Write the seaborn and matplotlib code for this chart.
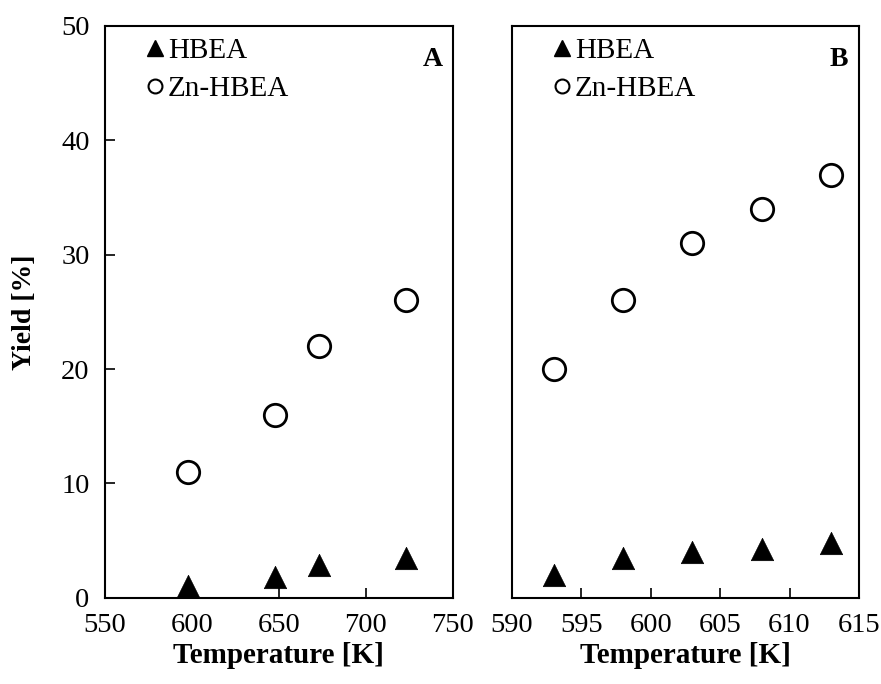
import matplotlib
matplotlib.use("Agg")
import matplotlib.pyplot as plt
import seaborn as sns
import pandas as pd
from matplotlib.lines import Line2D

# Data
temp_a = [598, 648, 673, 723]
hbea_a = [1.0, 1.8, 2.9, 3.5]
zn_a = [11.0, 16.0, 22.0, 26.0]

temp_b = [593, 598, 603, 608, 613]
hbea_b = [2.0, 3.5, 4.0, 4.3, 4.8]
zn_b = [20.0, 26.0, 31.0, 34.0, 37.0]

xticks_a = [550, 600, 650, 700, 750]
xticks_b = [590, 595, 600, 605, 610, 615]
yticks = [0, 10, 20, 30, 40, 50]

sns.set_style("ticks")
plt.rcParams['font.family'] = ['Liberation Serif', 'DejaVu Serif']
plt.rcParams['text.color'] = 'black'
plt.rcParams['axes.labelcolor'] = 'black'
plt.rcParams['xtick.color'] = 'black'
plt.rcParams['ytick.color'] = 'black'

fig = plt.figure(figsize=(8.81, 6.84), dpi=100)
axA = fig.add_axes([0.119, 0.126, 0.395, 0.836])
axB = fig.add_axes([0.581, 0.126, 0.394, 0.836])

def draw(ax, t, h, z, xticks, letter, show_y):
    df_h = pd.DataFrame({"T": t, "Y": h})
    df_z = pd.DataFrame({"T": t, "Y": z})
    sns.scatterplot(data=df_h, x="T", y="Y", ax=ax, marker="^", s=260,
                    color="black", edgecolor="black", linewidth=0.5, zorder=3)
    sns.scatterplot(data=df_z, x="T", y="Y", ax=ax, marker="o", s=260,
                    facecolor="white", edgecolor="black", linewidth=2.0, zorder=3)
    ax.set_xlim(xticks[0], xticks[-1])
    ax.set_ylim(0, 50)
    ax.set_xticks(xticks)
    ax.set_yticks(yticks)
    ax.tick_params(axis='both', direction='in', length=7, width=1.2,
                   labelsize=20.5, colors='black')
    ax.tick_params(axis='x', pad=11)
    ax.tick_params(axis='y', pad=11)
    if not show_y:
        ax.tick_params(axis='y', left=False, labelleft=False)
        ax.set_ylabel("")
    else:
        ax.set_ylabel("Yield [%]", fontsize=20, fontweight='bold', labelpad=17)
    ax.set_xlabel("Temperature [K]", fontsize=21, fontweight='bold', labelpad=3)
    for sp in ax.spines.values():
        sp.set_visible(True)
        sp.set_linewidth(1.5)
        sp.set_color('black')
    handles = [
        Line2D([], [], marker='^', linestyle='none', color='black', markersize=12),
        Line2D([], [], marker='o', linestyle='none', markerfacecolor='white',
               markeredgecolor='black', markeredgewidth=1.5, markersize=10),
    ]
    ax.legend(handles, ["HBEA", "Zn-HBEA"], loc='upper left', frameon=False,
              fontsize=21, handletextpad=0.15, handlelength=0.6,
              borderaxespad=0.0, labelspacing=0.4, bbox_to_anchor=(0.085, 1.0))
    ax.text(0.97, 0.963, letter, transform=ax.transAxes, ha='right', va='top',
            fontsize=20, fontweight='bold')

draw(axA, temp_a, hbea_a, zn_a, xticks_a, "A", True)
draw(axB, temp_b, hbea_b, zn_b, xticks_b, "B", False)

fig.savefig("out.png", dpi=100)
